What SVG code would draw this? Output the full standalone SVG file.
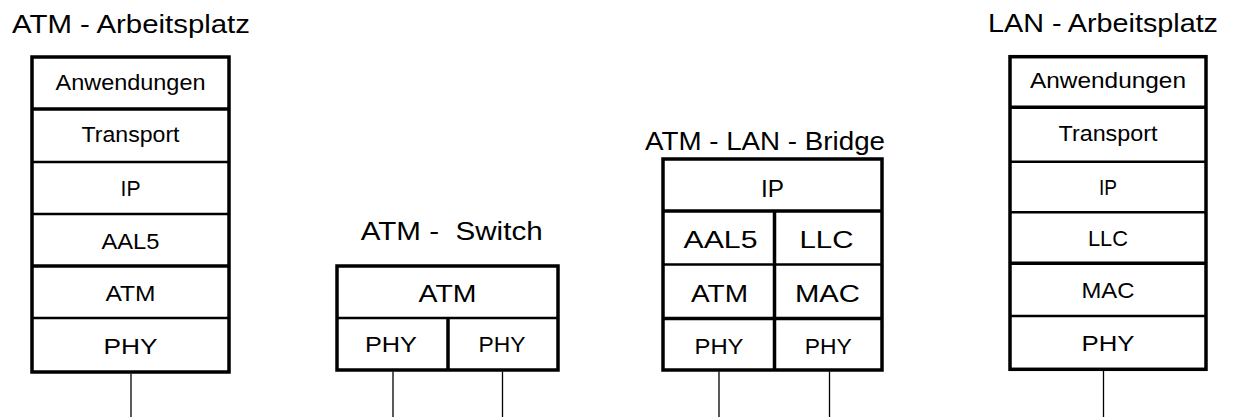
<svg xmlns="http://www.w3.org/2000/svg" width="1233" height="417" viewBox="0 0 1233 417">
  <style>
    .title { font-family: "Liberation Sans", Arial, sans-serif; font-size: 25px; fill: #000; }
    .lbl { font-family: "Liberation Sans", Arial, sans-serif; font-size: 21.5px; fill: #000; text-anchor: middle; }
    .lbl-big { font-family: "Liberation Sans", Arial, sans-serif; font-size: 24.5px; fill: #000; text-anchor: middle; }
    .frame { fill: #fff; stroke: #000; stroke-width: 3.5; }
    .div { stroke: #000; stroke-width: 2.5; fill: none; }
    .heavy { stroke-width: 3.5; }
    .wire { stroke: #000; stroke-width: 1.3; fill: none; }
  </style>

  <!-- ATM workstation protocol stack -->
  <g id="atm-arbeitsplatz">
    <text class="title" x="12" y="33" textLength="238" lengthAdjust="spacingAndGlyphs">ATM - Arbeitsplatz</text>
    <rect class="frame" x="32" y="57" width="197" height="315"/>
    <line class="div heavy" x1="32" y1="109" x2="229" y2="109"/>
    <line class="div" x1="32" y1="162" x2="229" y2="162"/>
    <line class="div" x1="32" y1="214" x2="229" y2="214"/>
    <line class="div heavy" x1="32" y1="266" x2="229" y2="266"/>
    <line class="div" x1="32" y1="318" x2="229" y2="318"/>
    <text class="lbl" x="130.5" y="90" textLength="150" lengthAdjust="spacingAndGlyphs">Anwendungen</text>
    <text class="lbl" x="130.5" y="142" textLength="98" lengthAdjust="spacingAndGlyphs">Transport</text>
    <text class="lbl" x="130.5" y="196" textLength="20" lengthAdjust="spacingAndGlyphs">IP</text>
    <text class="lbl" x="130.5" y="248.5" textLength="58" lengthAdjust="spacingAndGlyphs">AAL5</text>
    <text class="lbl" x="130.5" y="300.5" textLength="50" lengthAdjust="spacingAndGlyphs">ATM</text>
    <text class="lbl" x="130.5" y="353.5" textLength="54" lengthAdjust="spacingAndGlyphs">PHY</text>
  </g>

  <!-- ATM switch -->
  <g id="atm-switch">
    <text class="title" x="360.7" y="240" textLength="182" lengthAdjust="spacingAndGlyphs" xml:space="preserve">ATM -  Switch</text>
    <rect class="frame" x="337" y="266" width="221" height="104"/>
    <line class="div" x1="337" y1="318" x2="558" y2="318"/>
    <line class="div heavy" x1="448" y1="318" x2="448" y2="370"/>
    <text class="lbl-big" x="447.5" y="302" textLength="58" lengthAdjust="spacingAndGlyphs">ATM</text>
    <text class="lbl" x="391" y="352" textLength="52" lengthAdjust="spacingAndGlyphs">PHY</text>
    <text class="lbl" x="502" y="352" textLength="47" lengthAdjust="spacingAndGlyphs">PHY</text>
  </g>

  <!-- ATM / LAN bridge -->
  <g id="atm-lan-bridge">
    <text class="title" x="645" y="149.5" textLength="240" lengthAdjust="spacingAndGlyphs">ATM - LAN - Bridge</text>
    <rect class="frame" x="663" y="159" width="219" height="211"/>
    <line class="div heavy" x1="663" y1="211" x2="882" y2="211"/>
    <line class="div" x1="663" y1="264.5" x2="882" y2="264.5"/>
    <line class="div heavy" x1="663" y1="318.5" x2="882" y2="318.5"/>
    <line class="div heavy" x1="774.5" y1="211" x2="774.5" y2="370"/>
    <text class="lbl-big" x="772.5" y="196.5" textLength="23" lengthAdjust="spacingAndGlyphs">IP</text>
    <text class="lbl-big" x="720.5" y="247.5" textLength="74" lengthAdjust="spacingAndGlyphs">AAL5</text>
    <text class="lbl-big" x="826.5" y="247.5" textLength="54" lengthAdjust="spacingAndGlyphs">LLC</text>
    <text class="lbl-big" x="719.5" y="302" textLength="57" lengthAdjust="spacingAndGlyphs">ATM</text>
    <text class="lbl-big" x="827.5" y="302" textLength="65" lengthAdjust="spacingAndGlyphs">MAC</text>
    <text class="lbl" x="719" y="353.5" textLength="49" lengthAdjust="spacingAndGlyphs">PHY</text>
    <text class="lbl" x="828.3" y="353.5" textLength="47" lengthAdjust="spacingAndGlyphs">PHY</text>
  </g>

  <!-- LAN workstation protocol stack -->
  <g id="lan-arbeitsplatz">
    <text class="title" x="988" y="32" textLength="230" lengthAdjust="spacingAndGlyphs">LAN - Arbeitsplatz</text>
    <rect class="frame" x="1010" y="56.7" width="196" height="312.6"/>
    <line class="div heavy" x1="1010" y1="107.3" x2="1206" y2="107.3"/>
    <line class="div" x1="1010" y1="161.7" x2="1206" y2="161.7"/>
    <line class="div" x1="1010" y1="212.3" x2="1206" y2="212.3"/>
    <line class="div heavy" x1="1010" y1="263.3" x2="1206" y2="263.3"/>
    <line class="div" x1="1010" y1="316" x2="1206" y2="316"/>
    <text class="lbl" x="1108" y="88" textLength="156" lengthAdjust="spacingAndGlyphs">Anwendungen</text>
    <text class="lbl" x="1108" y="140.5" textLength="99" lengthAdjust="spacingAndGlyphs">Transport</text>
    <text class="lbl" x="1108" y="195" textLength="18" lengthAdjust="spacingAndGlyphs">IP</text>
    <text class="lbl" x="1108" y="246" textLength="40" lengthAdjust="spacingAndGlyphs">LLC</text>
    <text class="lbl" x="1108" y="298" textLength="53" lengthAdjust="spacingAndGlyphs">MAC</text>
    <text class="lbl" x="1108" y="350.5" textLength="53" lengthAdjust="spacingAndGlyphs">PHY</text>
  </g>

  <!-- physical links leaving each PHY layer -->
  <g id="connectors">
    <line class="wire" x1="131" y1="373.5" x2="131" y2="417"/>
    <line class="wire" x1="393" y1="371.5" x2="393" y2="417"/>
    <line class="wire" x1="502.5" y1="371.5" x2="502.5" y2="417"/>
    <line class="wire" x1="719" y1="371.5" x2="719" y2="417"/>
    <line class="wire" x1="829.5" y1="371.5" x2="829.5" y2="417"/>
    <line class="wire" x1="1103.5" y1="371" x2="1103.5" y2="417"/>
  </g>
</svg>
